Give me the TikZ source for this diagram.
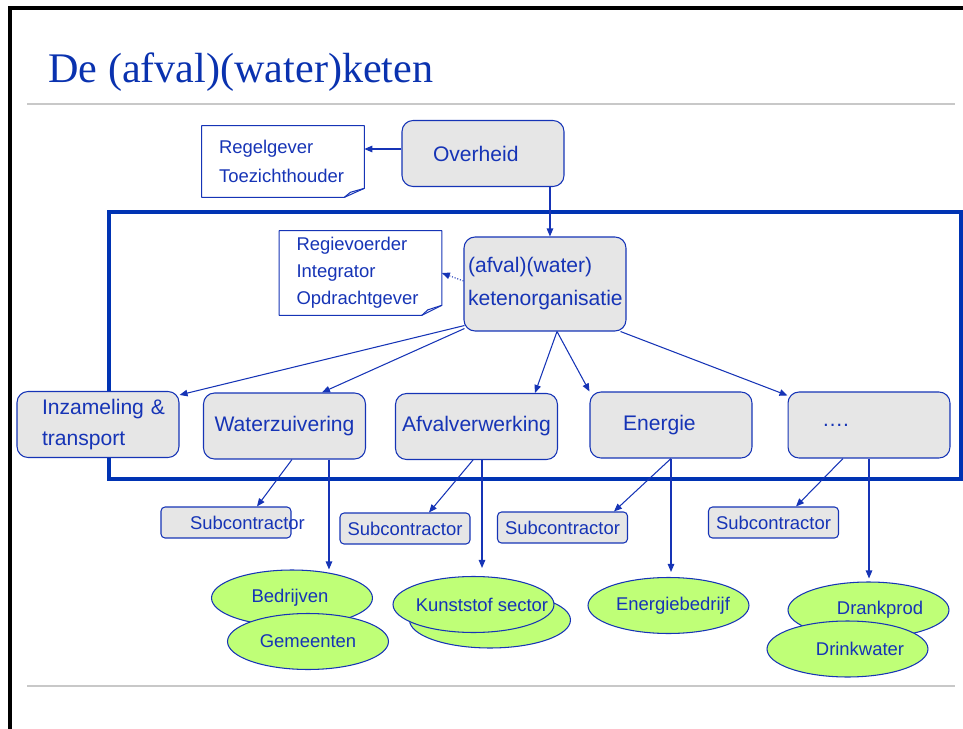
\documentclass[tikz,border=0pt]{standalone}
\usepackage{fontspec}
\setmainfont{Liberation Sans}
\newfontfamily\titlefont{Liberation Serif}
\usepackage{xcolor}
\usepackage{tikz}
\usetikzlibrary{shapes.geometric,arrows.meta}
\definecolor{ink}{RGB}{22,52,182}
\definecolor{titleblue}{RGB}{10,50,175}
\definecolor{frameblue}{RGB}{0,51,179}
\definecolor{boxgray}{RGB}{230,230,230}
\definecolor{blobgreen}{RGB}{191,255,119}
\definecolor{rulegray}{RGB}{200,200,200}

\begin{document}
\begin{tikzpicture}[x=0.02cm,y=-0.02cm]
\tikzstyle{every node}+=[inner sep=0pt, text=ink]
\tikzstyle{box}=[draw=ink, fill=boxgray, line width=0.6pt, rounded corners=0.22cm, minimum width=3.24cm, minimum height=1.32cm, font=\fontsize{12}{18}\selectfont]
\tikzstyle{sub}=[draw=ink, fill=boxgray, line width=0.6pt, rounded corners=0.08cm, minimum width=2.6cm, minimum height=0.62cm, font=\fontsize{10.5}{12}\selectfont]
\tikzstyle{blob}=[ellipse, draw=ink, fill=blobgreen, line width=0.6pt, minimum width=3.22cm, minimum height=1.12cm, font=\fontsize{10.5}{12}\selectfont]
\tikzstyle{note}=[fill=white, minimum width=3.24cm, text width=2.56cm, align=left]
\tikzstyle{fold}=[draw=ink, line width=0.6pt, line join=round]
\tikzstyle{arr}=[draw=ink, line width=0.6pt, -{Triangle[length=1.6mm,width=1.3mm]}]
\useasboundingbox (0,0) rectangle (963,729);
\draw [black, line width=2.3pt] (10,729) -- (10,8) -- (963,8);
\draw [rulegray, line width=1.1pt] (27,104) -- (955,104);
\draw [rulegray, line width=1.1pt] (27,686) -- (955,686);
\node [anchor=base west, text=titleblue, font=\titlefont\fontsize{24}{28}\selectfont] (title) at (48,83) {De (afval)(water)keten};
\draw [frameblue, line width=2.3pt] (109,212) rectangle (961,479);
\node [note, minimum height=1.42cm, font=\fontsize{10.5}{16.5}\selectfont] (regel) at (283,161.5) {Regelgever\\Toezichthouder};
\draw [fold] (regel.north west) -- (regel.north east) -- ([yshift=0.18cm]regel.south east) -- ([xshift=-0.4cm]regel.south east) -- (regel.south west) -- cycle;
\draw [fold] ([yshift=0.18cm]regel.south east) -- ([xshift=-0.28cm,yshift=0.1cm]regel.south east) -- ([xshift=-0.4cm]regel.south east);
\node [note, minimum height=1.68cm, font=\fontsize{10.5}{15.4}\selectfont] (regie) at (360.5,273) {Regievoerder\\Integrator\\Opdrachtgever};
\draw [fold] (regie.north west) -- (regie.north east) -- ([yshift=0.2cm]regie.south east) -- ([xshift=-0.4cm]regie.south east) -- (regie.south west) -- cycle;
\draw [fold] ([yshift=0.2cm]regie.south east) -- ([xshift=-0.28cm,yshift=0.11cm]regie.south east) -- ([xshift=-0.4cm]regie.south east);
\node [box, text width=2cm, align=left] (ov) at (483,153.5) {Overheid};
\node [box, minimum height=1.88cm, text width=3.08cm, align=left, font=\fontsize{12}{18.8}\selectfont] (keten) at (545,284) {(afval)(water)\\ketenorganisatie};
\node [box, text width=2.24cm, align=left, font=\fontsize{12}{17.6}\selectfont] (inzam) at (98,424.5) {\mbox{Inzameling \&}\\transport};
\node [box] (wz) at (284.5,426) {Waterzuivering};
\node [box] (afv) at (476.5,426.5) {Afvalverwerking};
\node [box, text width=1.92cm, align=left] (en) at (671,425) {Energie};
\node [box, text width=1.88cm, align=left] (dots) at (869,425) {….};
\node [sub, text width=2.6cm, align=left] (sub1) at (226,522.5) {\hspace*{0.58cm}\mbox{Subcontractor}};
\node [sub] (sub2) at (405,528.5) {Subcontractor};
\node [sub] (sub3) at (562.5,527.5) {Subcontractor};
\node [sub] (sub4) at (773.5,522.5) {Subcontractor};
\node [blob] (bedr) at (292,598) {\makebox[0pt]{Bedrijven\hspace*{0.08cm}}};
\node [blob] (gem) at (308,641.5) {\makebox[0pt]{Gemeenten}};
\node [blob] (kunstb) at (490,620) {};
\node [blob] (kunst) at (473.5,604.5) {\makebox[0pt]{\hspace*{0.34cm}Kunststof sector}};
\node [blob] (energieb) at (668.5,605.5) {\makebox[0pt]{\hspace*{0.18cm}Energiebedrijf}};
\node [blob] (drank) at (868.5,610) {\makebox[0pt]{\hspace*{0.46cm}Drankprod}};
\node [blob] (drink) at (847.5,649) {\makebox[0pt]{\hspace*{0.5cm}Drinkwater}};
\coordinate (ovl) at ([yshift=0.09cm]ov.west);
\draw [arr] (ovl) -- (ovl -| regel.east);
\coordinate (ovd) at ([xshift=1.34cm]ov.south);
\draw [arr] (ovd) -- (ovd |- keten.north);
\draw [arr, densely dotted] ([yshift=0.06cm]keten.west) -- (regie.east);
\draw [arr] ([xshift=0.02cm,yshift=0.12cm]keten.south west) -- ([yshift=-0.08cm]inzam.north east);
\draw [arr] ([xshift=0.02cm,yshift=0.06cm]keten.south west) -- ([xshift=0.75cm]wz.north);
\draw [arr] ([xshift=0.24cm]keten.south) -- ([xshift=1.17cm]afv.north);
\draw [arr] ([xshift=0.24cm]keten.south) -- (en.north west);
\draw [arr] ([xshift=-0.12cm]keten.south east) -- ([yshift=-0.08cm]dots.north west);
\draw [arr] ([xshift=0.15cm]wz.south) -- ([xshift=0.62cm]sub1.north);
\draw [arr] ([xshift=-0.07cm]afv.south) -- ([xshift=0.48cm]sub2.north);
\draw [arr] (en.south) -- ([xshift=1.03cm]sub3.north);
\draw [arr] ([xshift=-0.52cm]dots.south) -- ([xshift=0.45cm]sub4.north);
\coordinate (wzd) at ([xshift=0.89cm]wz.south);
\draw [arr] (wzd) -- (wzd |- bedr.north);
\coordinate (afvd) at ([xshift=0.11cm]afv.south);
\draw [arr, shorten >=0.16cm] (afvd) -- (afvd |- kunst.north);
\draw [arr, shorten >=0.1cm] (en.south) -- (en.south |- energieb.north);
\draw [arr, shorten >=0.06cm] (dots.south) -- (dots.south |- drank.north);
\end{tikzpicture}
\end{document}
